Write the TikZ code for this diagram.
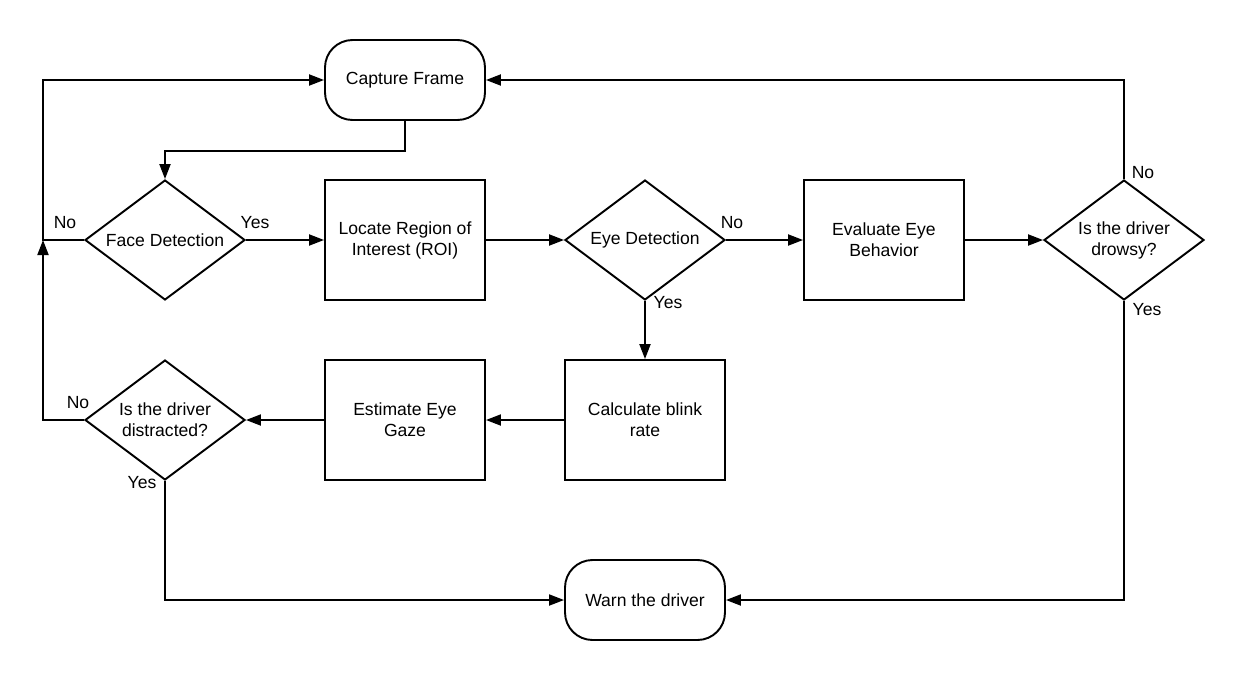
\documentclass[tikz,border=0pt]{standalone}
\usepackage{fontspec}
\setmainfont{Liberation Sans}
\usetikzlibrary{arrows.meta,shapes.geometric}
\begin{document}
\begin{tikzpicture}[x=0.02cm,y=-0.02cm,>={Triangle[length=0.3cm,width=0.22cm]},line join=miter,
	line width=1.1pt,font=\fontsize{10}{12}\selectfont,
	box/.style={draw,rectangle,minimum width=3.2cm,minimum height=2.4cm,align=center,inner sep=0pt},
	term/.style={draw,rectangle,rounded corners=0.55cm,minimum width=3.2cm,minimum height=1.6cm,align=center,inner sep=0pt},
	test/.style={draw,diamond,aspect=1.333,minimum width=3.2cm,minimum height=2.4cm,align=center,inner sep=0pt},
	lbl/.style={inner sep=0pt}]
	\useasboundingbox (0,0) rectangle (1245,680);
	% nodes
	\node[term] (capture) at (405,80) {Capture Frame};
	\node[test] (face) at (165,240) {Face Detection};
	\node[box] (roi) at (405,240) {Locate Region of\\Interest (ROI)};
	\node[test] (eye) at (645,240) {Eye Detection};
	\node[box] (behav) at (884,240) {Evaluate Eye\\Behavior};
	\node[test] (drowsy) at (1124,240) {Is the driver\\drowsy?};
	\node[box] (blink) at (645,420) {Calculate blink\\rate};
	\node[box] (gaze) at (405,420) {Estimate Eye\\Gaze};
	\node[test] (distr) at (165,420) {Is the driver\\distracted?};
	\node[term] (warn) at (645,600) {Warn the driver};
	\coordinate (loopL) at (43,240);
	% connectors
	\draw[->] (capture.south) -- ++(0,30) -| (face.north);
	\draw[->] (face.west) -- (loopL) |- (capture.west);
	\draw[->] (face) -- (roi);
	\draw[->] (roi) -- (eye);
	\draw[->] (eye) -- (behav);
	\draw[->] (eye) -- (blink);
	\draw[->] (behav) -- (drowsy);
	\draw[->] (drowsy.north) |- (capture.east);
	\draw[->] (drowsy.south) |- (warn.east);
	\draw[->] (blink) -- (gaze);
	\draw[->] (gaze) -- (distr);
	\draw[->] (distr.west) -| (loopL);
	\draw[->] (distr.south) |- (warn.west);
	% labels
	\node[lbl] (faceNo) at (65,223) {No};
	\node[lbl] (faceYes) at (255,223) {Yes};
	\node[lbl] (eyeNo) at (732,223) {No};
	\node[lbl] (eyeYes) at (668,303) {Yes};
	\node[lbl] (drowsyNo) at (1143,173) {No};
	\node[lbl] (drowsyYes) at (1147,310) {Yes};
	\node[lbl] (distrNo) at (78,403) {No};
	\node[lbl] (distrYes) at (142,483) {Yes};
\end{tikzpicture}
\end{document}
